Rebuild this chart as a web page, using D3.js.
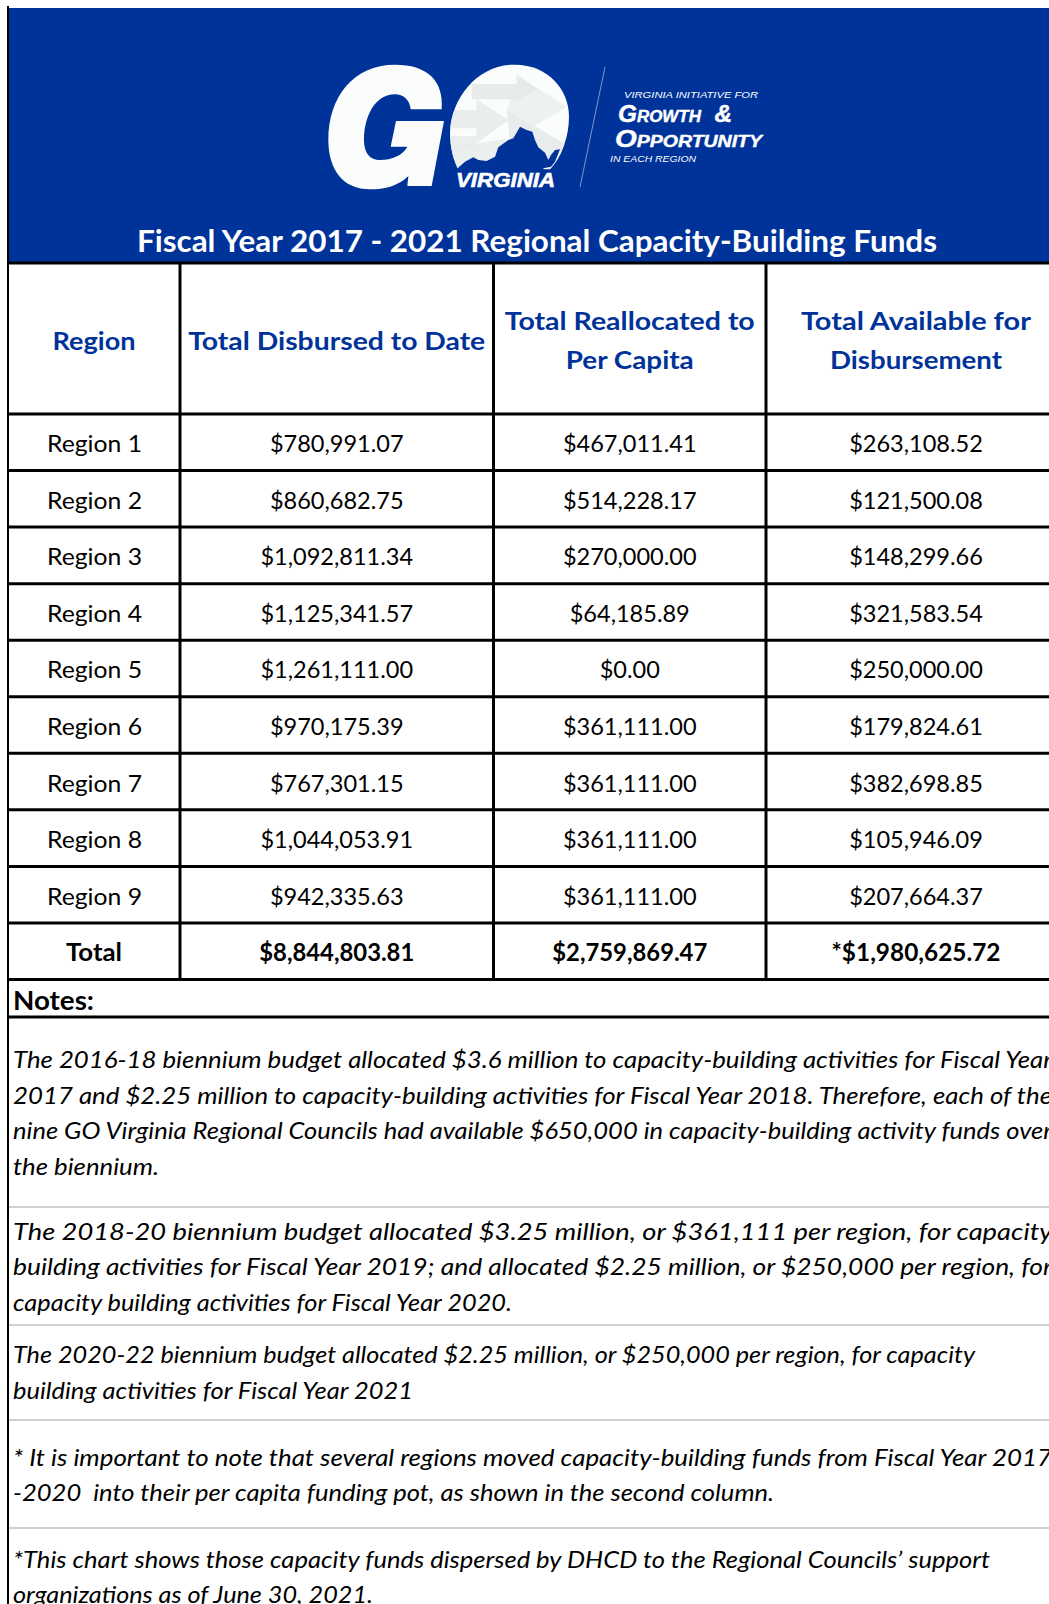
<!DOCTYPE html>
<html>
<head>
<meta charset="utf-8">
<script src="https://cdn.jsdelivr.net/npm/d3@7"></script>
<style>
  html, body { margin: 0; padding: 0; background: #fff; overflow: hidden; }
  svg { display: block; }
</style>
</head>
<body>
<div id="chart"></div>
<script>
// table data
const regions = ["Region 1", "Region 2", "Region 3", "Region 4", "Region 5", "Region 6", "Region 7", "Region 8", "Region 9"];
const disbursed = [780991.07, 860682.75, 1092811.34, 1125341.57, 1261111.00, 970175.39, 767301.15, 1044053.91, 942335.63];
const reallocated = [467011.41, 514228.17, 270000.00, 64185.89, 0, 361111.00, 361111.00, 361111.00, 361111.00];
const available = [263108.52, 121500.08, 148299.66, 321583.54, 250000.00, 179824.61, 382698.85, 105946.09, 207664.37];
const totals = [8844803.81, 2759869.47, 1980625.72];
const headers = [["Region"], ["Total Disbursed to Date"], ["Total Reallocated to", "Per Capita"], ["Total Available for", "Disbursement"]];
const title = "Fiscal Year 2017 - 2021 Regional Capacity-Building Funds";
const notes = [
    "The 2016-18 biennium budget allocated $3.6 million to capacity-building activities for Fiscal Year",
    "2017 and $2.25 million to capacity-building activities for Fiscal Year 2018. Therefore, each of the",
    "nine GO Virginia Regional Councils had available $650,000 in capacity-building activity funds over",
    "the biennium.",
    "The 2018-20 biennium budget allocated $3.25 million, or $361,111 per region, for capacity-",
    "building activities for Fiscal Year 2019; and allocated $2.25 million, or $250,000 per region, for",
    "capacity building activities for Fiscal Year 2020.",
    "The 2020-22 biennium budget allocated $2.25 million, or $250,000 per region, for capacity",
    "building activities for Fiscal Year 2021",
    "* It is important to note that several regions moved capacity-building funds from Fiscal Year 2017",
    "-2020  into their per capita funding pot, as shown in the second column.",
    "*This chart shows those capacity funds dispersed by DHCD to the Regional Councils\u2019 support",
    "organizations as of June 30, 2021."
];

// layout
const width = 1049, height = 1604;
const colEdges = [8, 180, 493.5, 766, 1066];
const noteBaselines = [1068, 1104, 1139, 1175, 1240, 1275, 1311, 1363, 1399, 1466, 1501, 1568, 1603];
const noteEnds = [1052, 1052, 1052, 159, 1062, 1052, 512, 975, 413, 1052, 774, 990, 373];
const greyLines = [1207, 1325, 1420, 1528];
const blue = "#003399";
const font = "Lato, Carlito, sans-serif";

const svg = d3.select("#chart").append("svg")
    .attr("width", width)
    .attr("height", height)
    .attr("font-family", font);

const rowNames = regions.concat(["Total"]);
const y = d3.scaleBand().domain(rowNames).range([414, 979.5]);
const x = d3.scaleOrdinal().domain(d3.range(4)).range(d3.pairs(colEdges).map(p => (p[0] + p[1]) / 2));
const money = d3.format("$,.2f");

// squeeze Lato down to Calibri's widths
function fit(sel, k) {
    sel.each(function () {
        d3.select(this)
            .attr("textLength", this.getComputedTextLength() * k)
            .attr("lengthAdjust", "spacingAndGlyphs");
    });
    return sel;
}
function fitTo(sel, w) {
    return sel.attr("textLength", w).attr("lengthAdjust", "spacingAndGlyphs");
}

// banner
svg.append("rect").attr("x", 8).attr("y", 8).attr("width", width).attr("height", 254).attr("fill", blue);

// logo shapes, traced at 3x
const oShape = "M38,325 C18,285 15,240 15,215 C20,110 100,14 210,14 C310,14 372,90 372,170 C372,230 350,290 315,328 Z";
svg.append("defs").append("clipPath").attr("id", "o-clip").append("path").attr("d", oShape);

svg.append("g").attr("transform", "translate(320,60) scale(0.3333)")
    .append("path")
    .attr("fill", "#fbfcfc")
    .attr("d", "M372,183 L335,378 L262,378 L265,348 C235,378 195,388 150,388 C70,388 25,330 25,240 C25,110 100,14 225,14 C320,14 372,60 365,148 L272,148 C270,120 250,103 225,103 C165,103 132,170 132,240 C132,280 150,300 180,300 C215,300 250,285 262,260 L212,260 L228,183 Z");

const oGroup = svg.append("g").attr("transform", "translate(445,60) scale(0.3333)");
oGroup.append("path").attr("fill", "#fbfcfc").attr("d", oShape);
oGroup.append("g").attr("clip-path", "url(#o-clip)")
    .selectAll("path")
    .data([
        { d: "M80,72 L215,72 L215,45 L278,88 L215,122 L215,118 L80,118 Z", o: 0.95 },
        { d: "M225,50 L365,140 L240,215 L185,150 Z", o: 0.6 },
        { d: "M0,150 L95,150 L95,118 L190,180 L95,250 L95,205 L0,205 Z", o: 0.85 },
        { d: "M0,228 L95,228 L95,265 L0,265 Z", o: 0.8 },
        { d: "M185,150 L365,255 L330,330 L200,300 Z", o: 0.9 },
        { d: "M15,265 L190,235 L120,320 L38,330 Z", o: 0.8 }
    ])
    .join("path")
    .attr("fill", "#e6eaea")
    .attr("fill-opacity", d => d.o)
    .attr("d", d => d.d);
// state outline cut out of the O
oGroup.append("path")
    .attr("fill", blue)
    .attr("d", "M38,325 L60,305 L85,292 L100,300 L125,303 L150,290 L160,262 L190,240 L205,235 L225,200 L245,210 L262,215 L270,240 L280,262 L300,278 L310,300 L318,285 L330,270 L345,268 L338,285 L330,305 L318,320 L295,325 L300,345 L30,345 Z");

svg.append("line")
    .attr("x1", 605).attr("y1", 67).attr("x2", 580).attr("y2", 187)
    .attr("stroke", "#7d95c8").attr("stroke-width", 1);

const logoFont = "'Liberation Sans', Arial, sans-serif";
svg.append("text").attr("x", 456).attr("y", 187).attr("font-family", logoFont).attr("font-size", 21)
    .attr("font-weight", 700).attr("font-style", "italic").attr("fill", "#fff")
    .attr("stroke", "#fff").attr("stroke-width", 0.6)
    .text("VIRGINIA").call(fitTo, 99);
svg.append("text").attr("x", 624).attr("y", 98).attr("font-family", logoFont).attr("font-size", 9.5)
    .attr("font-style", "italic").attr("fill", "#fff")
    .text("VIRGINIA INITIATIVE FOR").call(fitTo, 134);
svg.append("text").attr("x", 610).attr("y", 162).attr("font-family", logoFont).attr("font-size", 9.5)
    .attr("font-style", "italic").attr("fill", "#fff")
    .text("IN EACH REGION").call(fitTo, 86);
svg.append("text").attr("x", 618).attr("y", 122).attr("font-family", logoFont).attr("font-size", 23)
    .attr("font-weight", 700).attr("font-style", "italic").attr("fill", "#fff")
    .attr("stroke", "#fff").attr("stroke-width", 0.4)
    .style("font-variant", "small-caps").style("white-space", "pre")
    .text("Growth  &").call(fitTo, 114);
svg.append("text").attr("x", 615).attr("y", 147).attr("font-family", logoFont).attr("font-size", 23)
    .attr("font-weight", 700).attr("font-style", "italic").attr("fill", "#fff")
    .attr("stroke", "#fff").attr("stroke-width", 0.4)
    .style("font-variant", "small-caps")
    .text("Opportunity").call(fitTo, 147);

svg.append("text")
    .attr("x", 137).attr("y", 252)
    .attr("font-size", 30).attr("font-weight", 700).attr("fill", "#fff")
    .text(title).call(fitTo, 800);

// header cells
const headerWidths = [[83], [297], [250, 128], [230, 172]];
headers.forEach((lines, c) => {
    lines.forEach((line, i) => {
        const base = lines.length === 1 ? 350 : 330 + i * 39;
        const t = svg.append("text")
            .attr("x", x(c)).attr("y", base)
            .attr("text-anchor", "middle")
            .attr("font-size", 25).attr("font-weight", 700).attr("fill", blue)
            .text(line);
        fitTo(t, headerWidths[c][i]);
    });
});

// body cells
const columns = [disbursed, reallocated, available];
svg.append("g").selectAll("text")
    .data(regions)
    .join("text")
    .attr("x", x(0) + 0.5).attr("y", d => y(d) + y.bandwidth() / 2 + 10)
    .attr("text-anchor", "middle").attr("font-size", 24).attr("fill", "#000")
    .text(d => d)
    .call(fit, 1.03);

columns.forEach((values, c) => {
    svg.append("g").selectAll("text")
        .data(values)
        .join("text")
        .attr("x", x(c + 1)).attr("y", (d, i) => y(regions[i]) + y.bandwidth() / 2 + 10)
        .attr("text-anchor", "middle").attr("font-size", 24).attr("fill", "#000")
        .text(d => money(d))
        .call(fit, 0.98);
});

// total row
const totalBase = y("Total") + y.bandwidth() / 2 + 10;
const totalText = svg.append("g").attr("font-size", 24).attr("font-weight", 700).attr("text-anchor", "middle");
totalText.append("text").attr("x", x(0)).attr("y", totalBase).text("Total").call(fitTo, 56);
totals.forEach((v, c) => {
    totalText.append("text")
        .attr("x", x(c + 1)).attr("y", totalBase)
        .text((c === 2 ? "*" : "") + money(v))
        .call(fitTo, c === 2 ? 169 : 155);
});

// notes
svg.append("text").attr("x", 13).attr("y", 1010)
    .attr("font-size", 26).attr("font-weight", 700).text("Notes:").call(fitTo, 81);
svg.append("g").selectAll("text")
    .data(notes)
    .join("text")
    .attr("x", 13)
    .attr("y", (d, i) => noteBaselines[i])
    .attr("font-size", 24).attr("font-style", "italic").attr("fill", "#000")
    .style("white-space", "pre")
    .text(d => d)
    .attr("textLength", (d, i) => noteEnds[i] - 13)
    .attr("lengthAdjust", "spacingAndGlyphs");

// grid lines
const grid = svg.append("g").attr("stroke", "#000").attr("stroke-width", 3);
grid.selectAll("line.h")
    .data([263].concat(y.domain().map(d => y(d)), [979.5, 1017]))
    .join("line")
    .attr("class", "h")
    .attr("x1", 7).attr("x2", width)
    .attr("y1", d => d).attr("y2", d => d);
grid.selectAll("line.v")
    .data(colEdges.slice(1, 4))
    .join("line")
    .attr("class", "v")
    .attr("x1", d => d).attr("x2", d => d)
    .attr("y1", 263).attr("y2", 979.5);
svg.append("line").attr("x1", 8).attr("x2", 8).attr("y1", 6).attr("y2", height)
    .attr("stroke", "#000").attr("stroke-width", 2);
svg.append("g").selectAll("line")
    .data(greyLines)
    .join("line")
    .attr("x1", 9).attr("x2", width)
    .attr("y1", d => d).attr("y2", d => d)
    .attr("stroke", "#d0d0d0").attr("stroke-width", 2);
</script>
</body>
</html>
